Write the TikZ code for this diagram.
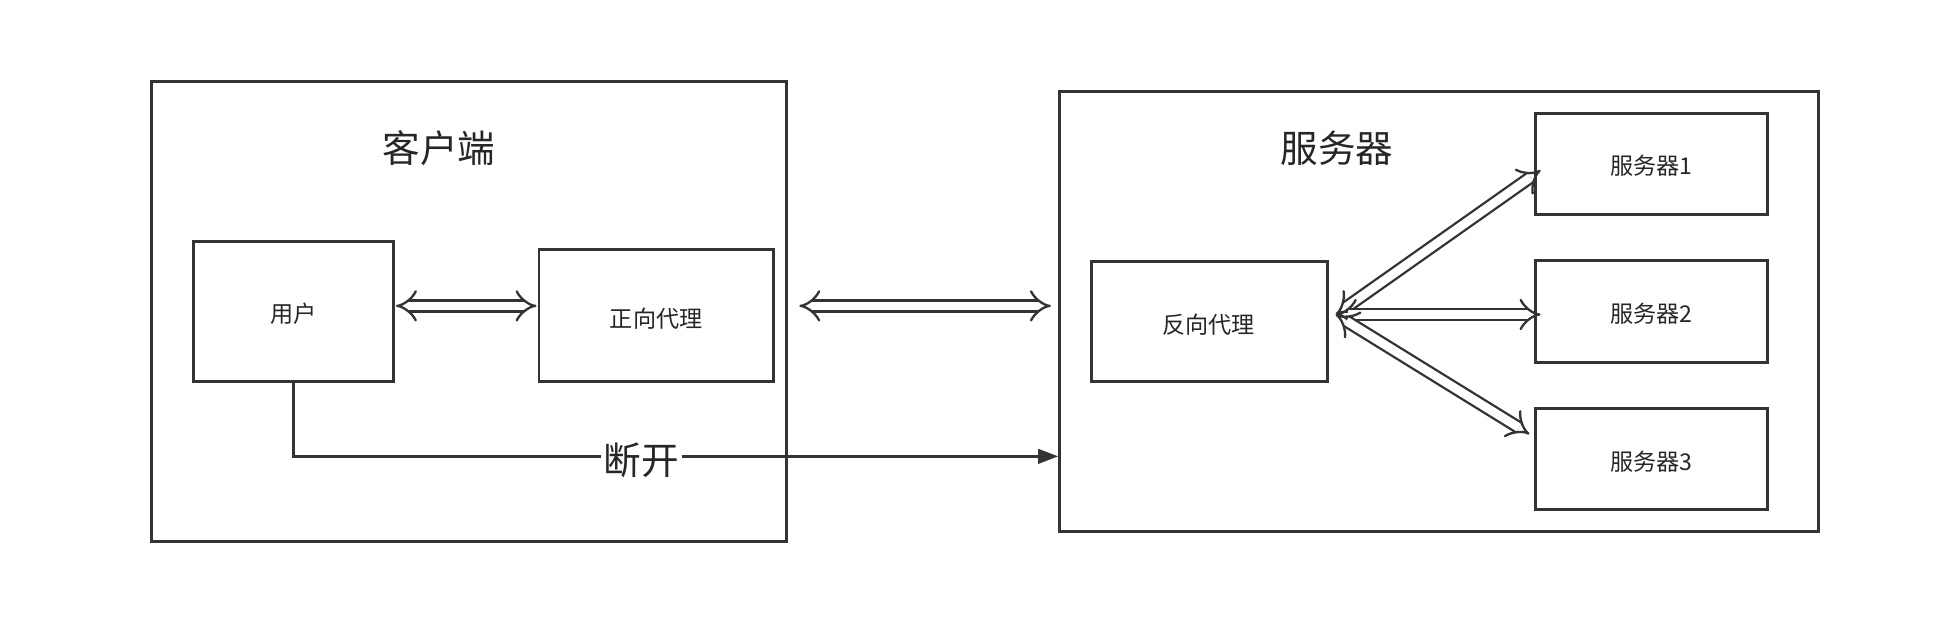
\documentclass[tikz,border=0pt]{standalone}
\usepackage{fontspec}
\setmainfont{Noto Sans CJK SC}
\usetikzlibrary{arrows.meta}
\begin{document}
\begin{tikzpicture}[x=0.03cm,y=-0.03cm,
  box/.style={draw=black!80,line width=2pt,inner sep=0pt},
  dbl/.style={draw=black!80,line width=1.6pt,double=white,double distance=6pt,{Implies}-{Implies}},
  big/.style={font=\fontsize{26}{30}\selectfont,text=black!85},
  small/.style={font=\fontsize{16}{20}\selectfont,text=black!85}]
\useasboundingbox (0,0) rectangle (1568,500);
\draw[box] (123,66) rectangle (638,439);
\node[big] (ct) at (356,120) {客户端};
\draw[box] (157,196) rectangle (319,309);
\node[small] (u) at (238,254) {用户};
\coordinate (ul) at (319,248);
\draw[box] (437,202) rectangle (627,309);
\node[small] (fp) at (532,258) {正向代理};
\coordinate (fl) at (437,248);
\draw[box] (859,74) rectangle (1474,431);
\node[big] (st) at (1084,120) {服务器};
\draw[box] (885,212) rectangle (1076,309);
\node[small] (rp) at (980,263) {反向代理};
\draw[box] (1245,92) rectangle (1433,174);
\node[small] (s1) at (1339,134) {服务器1};
\draw[box] (1245,211) rectangle (1433,294);
\node[small] (s2) at (1339,254) {服务器2};
\draw[box] (1245,331) rectangle (1433,413);
\node[small] (s3) at (1339,374) {服务器3};
\coordinate (a1) at (321,248); \coordinate (a2) at (435,248);
\draw[dbl] (a1) -- (a2);
\coordinate (m1) at (648,248); \coordinate (m2) at (852,248);
\draw[dbl] (m1) -- (m2);
\coordinate (r) at (1083,255);
\coordinate (t1) at (1249,138); \coordinate (t2) at (1249,255); \coordinate (t3) at (1240,352);
\draw[dbl] (r) -- (t1);
\draw[dbl] (r) -- (t2);
\draw[dbl] (r) -- (t3);
\coordinate (d0) at (238,309); \coordinate (d1) at (238,370); \coordinate (d2) at (858,370);
\draw[draw=black!80,line width=2pt,-{Triangle[length=14pt,width=10pt]}] (d0) -- (d1) -- (d2);
\node[big,fill=white,inner sep=2pt] (dk) at (520,373) {断开};
\end{tikzpicture}
\end{document}
